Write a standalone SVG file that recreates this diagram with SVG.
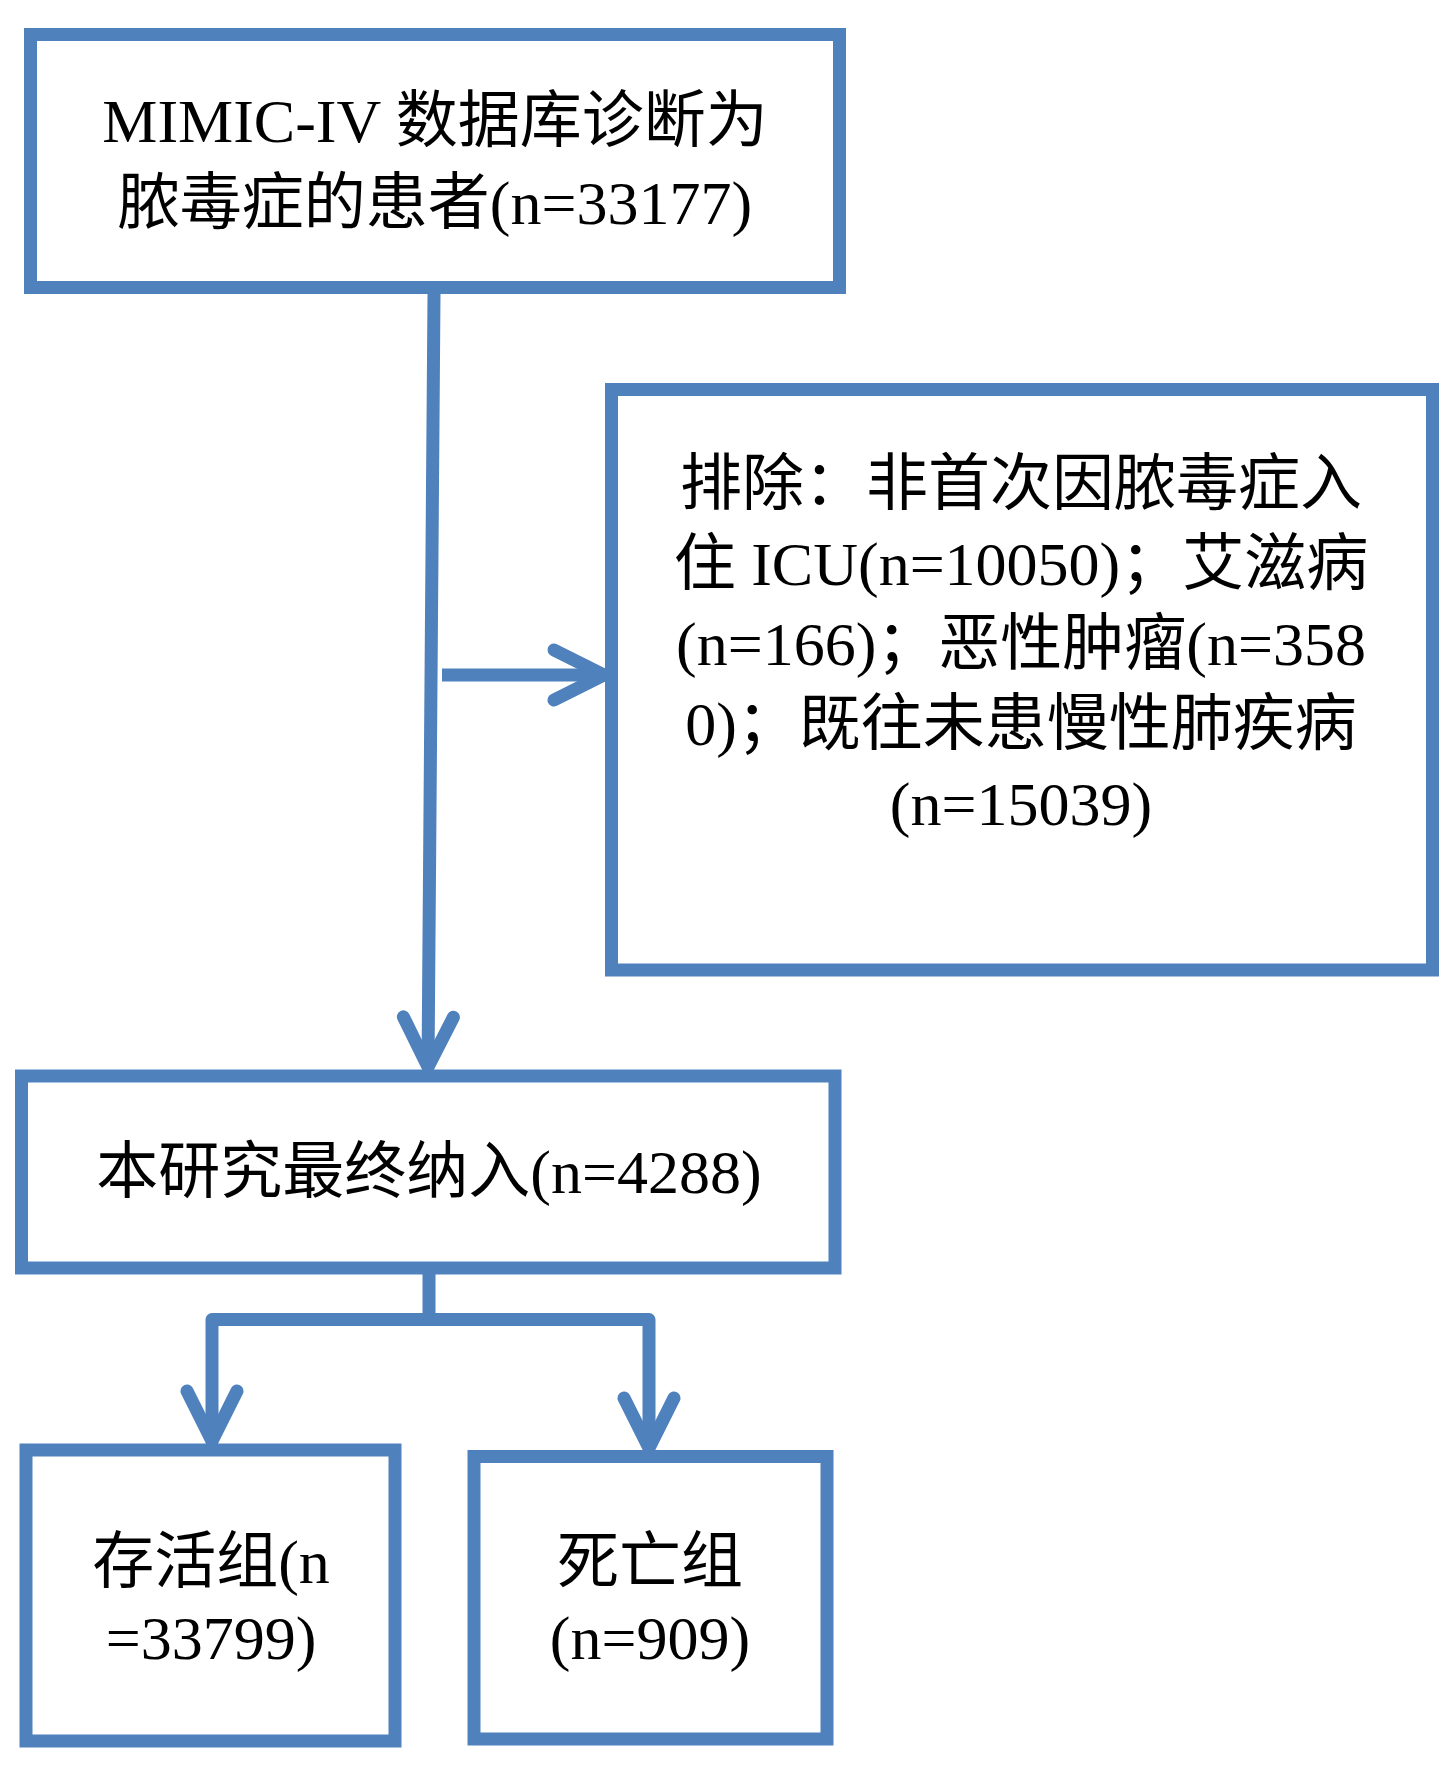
<svg xmlns="http://www.w3.org/2000/svg" width="1452" height="1774" viewBox="0 0 1452 1774">
  <style>
    .box { fill: #FFFFFF; stroke: #4F81BD; stroke-width: 13; }
    .conn { fill: none; stroke: #4F81BD; stroke-width: 13; stroke-linecap: butt; stroke-linejoin: round; }
    .lbl { font-family: "Liberation Serif", "Noto Sans CJK SC", serif; font-size: 62px; fill: #000000; text-anchor: middle; }
  </style>
  <defs>
    <marker id="arr" markerUnits="userSpaceOnUse" orient="auto" refX="0" refY="0" markerWidth="10" markerHeight="10" style="overflow:visible">
      <path d="M-50,-25 L0,0 L-50,25" fill="none" stroke="#4F81BD" stroke-width="13" stroke-linecap="round" stroke-linejoin="round"/>
    </marker>
  </defs>
  <rect width="1452" height="1774" fill="#FFFFFF"/>

  <g id="connectors">
    <path class="conn" d="M434,294 L428,1067" marker-end="url(#arr)"/>
    <path class="conn" d="M442,675 H604" marker-end="url(#arr)"/>
    <path class="conn" d="M429,1274 V1319.5 H212 V1441" marker-end="url(#arr)"/>
    <path class="conn" d="M429,1319.5 H649 V1448" marker-end="url(#arr)"/>
  </g>

  <g id="node-sepsis">
    <rect class="box" x="30.5" y="34.5" width="809" height="253"/>
    <text class="lbl" x="435" y="142">MIMIC-IV 数据库诊断为</text>
    <text class="lbl" x="435" y="224">脓毒症的患者(n=33177)</text>
  </g>

  <g id="node-exclude">
    <rect class="box" x="611.5" y="389.5" width="821" height="580.5"/>
    <text class="lbl" x="1021" y="505">排除：非首次因脓毒症入</text>
    <text class="lbl" x="1021" y="585">住 ICU(n=10050)；艾滋病</text>
    <text class="lbl" x="1021" y="665">(n=166)；恶性肿瘤(n=358</text>
    <text class="lbl" x="1021" y="745">0)；既往未患慢性肺疾病</text>
    <text class="lbl" x="1021" y="825">(n=15039)</text>
  </g>

  <g id="node-included">
    <rect class="box" x="21.5" y="1076" width="813.5" height="192"/>
    <text class="lbl" x="429" y="1193">本研究最终纳入(n=4288)</text>
  </g>

  <g id="node-survival">
    <rect class="box" x="26" y="1450" width="369" height="291"/>
    <text class="lbl" x="211" y="1583">存活组(n</text>
    <text class="lbl" x="211" y="1659">=33799)</text>
  </g>

  <g id="node-death">
    <rect class="box" x="474" y="1456.5" width="353" height="282.5"/>
    <text class="lbl" x="650" y="1583">死亡组</text>
    <text class="lbl" x="650" y="1659">(n=909)</text>
  </g>
</svg>
